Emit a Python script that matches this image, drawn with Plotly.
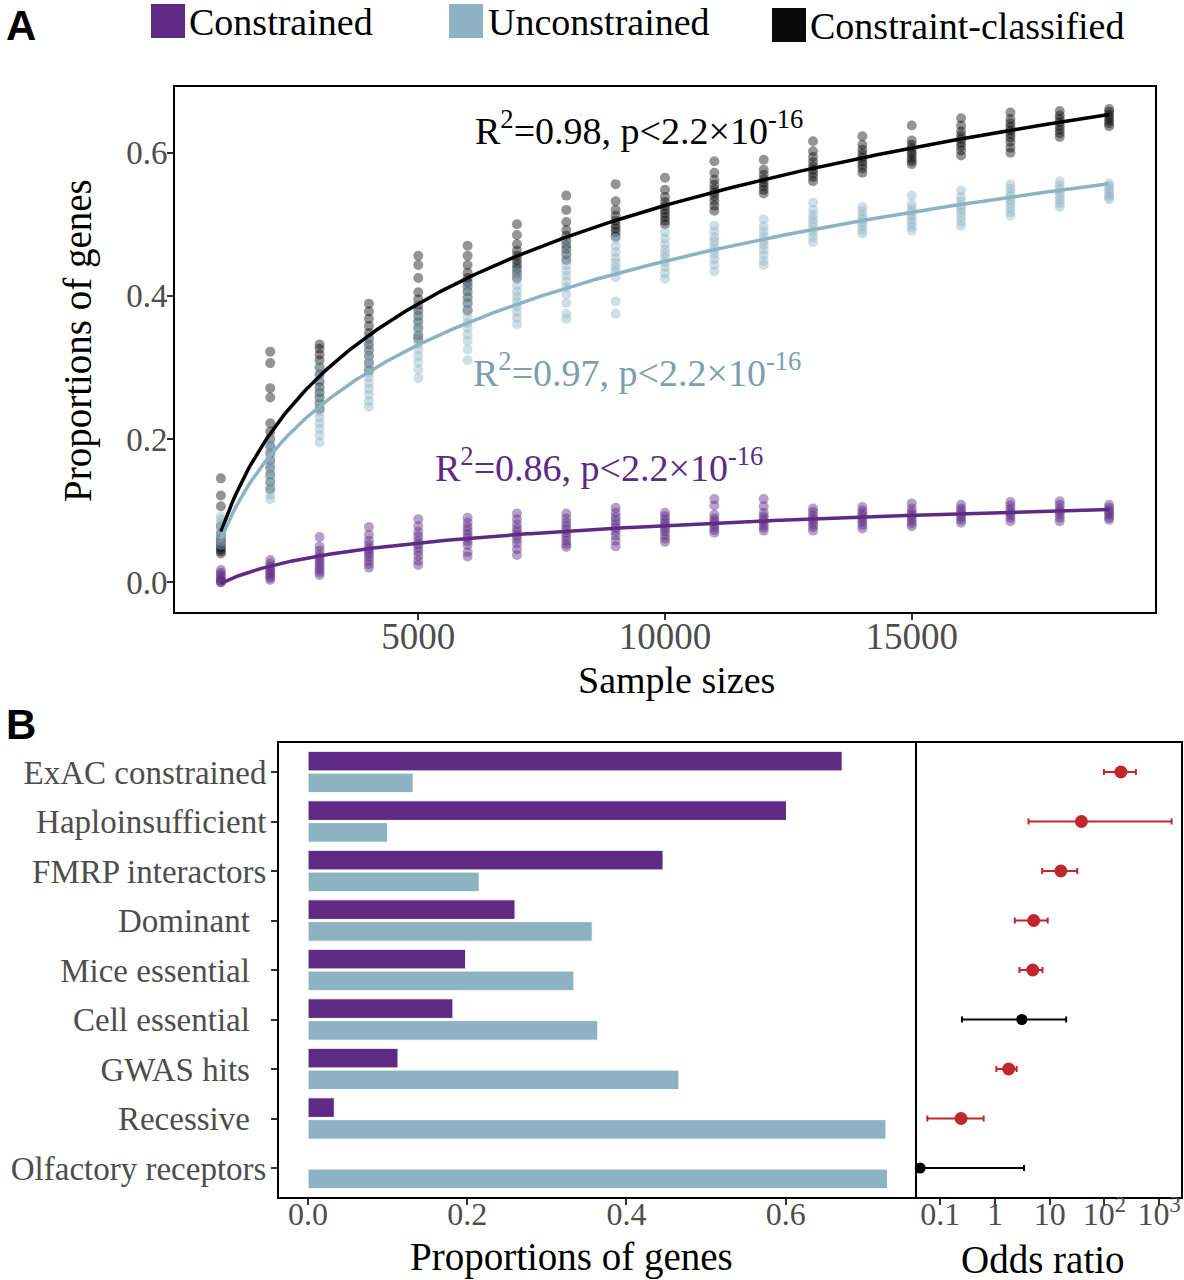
import numpy as np
import plotly.graph_objects as go

# ---------------- DATA ----------------
sample_sizes = [1000, 2000, 3000, 4000, 5000, 6000, 7000, 8000, 9000, 10000,
                11000, 12000, 13000, 14000, 15000, 16000, 17000, 18000, 19000]

classified_pts = [
    [0.145, 0.121, 0.106, 0.078, 0.068, 0.062, 0.058, 0.055, 0.052, 0.049, 0.046, 0.043, 0.04],
    [0.322, 0.306, 0.271, 0.258, 0.222, 0.21, 0.2, 0.19, 0.18, 0.17, 0.16, 0.15, 0.14, 0.13],
    [0.332, 0.326, 0.318, 0.31, 0.3, 0.29, 0.28, 0.272, 0.265, 0.258, 0.25, 0.242],
    [0.389, 0.378, 0.368, 0.358, 0.348, 0.34, 0.332, 0.324, 0.316, 0.306, 0.296],
    [0.456, 0.443, 0.425, 0.405, 0.395, 0.387, 0.38, 0.372, 0.364, 0.355, 0.345, 0.34],
    [0.47, 0.456, 0.443, 0.432, 0.425, 0.419, 0.413, 0.406, 0.398, 0.39, 0.38],
    [0.50, 0.485, 0.472, 0.463, 0.456, 0.45, 0.444, 0.438, 0.432, 0.425],
    [0.54, 0.52, 0.503, 0.492, 0.484, 0.477, 0.471, 0.465, 0.458, 0.45],
    [0.556, 0.532, 0.52, 0.512, 0.505, 0.499, 0.494, 0.489, 0.483],
    [0.565, 0.548, 0.538, 0.531, 0.525, 0.52, 0.515, 0.51, 0.505, 0.5],
    [0.588, 0.572, 0.562, 0.555, 0.549, 0.544, 0.539, 0.533, 0.526, 0.519],
    [0.59, 0.576, 0.569, 0.563, 0.558, 0.553, 0.548, 0.543],
    [0.616, 0.602, 0.594, 0.587, 0.581, 0.576, 0.571, 0.566, 0.56],
    [0.623, 0.611, 0.604, 0.598, 0.593, 0.588, 0.583, 0.578, 0.572],
    [0.638, 0.617, 0.611, 0.606, 0.601, 0.597, 0.592, 0.588, 0.584],
    [0.648, 0.638, 0.63, 0.624, 0.619, 0.614, 0.609, 0.603, 0.596],
    [0.656, 0.647, 0.641, 0.636, 0.631, 0.626, 0.621, 0.615, 0.607, 0.6],
    [0.658, 0.652, 0.647, 0.642, 0.637, 0.632, 0.627, 0.622],
    [0.661, 0.657, 0.653, 0.649, 0.645, 0.641, 0.637],
]

unconstrained_pts = [
    [0.092, 0.087, 0.082, 0.077, 0.072, 0.067, 0.062, 0.057, 0.052],
    [0.20, 0.19, 0.182, 0.175, 0.168, 0.16, 0.152, 0.145, 0.138, 0.13, 0.122, 0.116],
    [0.30, 0.285, 0.27, 0.26, 0.252, 0.245, 0.238, 0.23, 0.222, 0.214, 0.205, 0.195],
    [0.34, 0.325, 0.315, 0.307, 0.3, 0.293, 0.286, 0.278, 0.27, 0.262, 0.253, 0.245],
    [0.39, 0.375, 0.365, 0.355, 0.347, 0.34, 0.333, 0.325, 0.316, 0.307, 0.297, 0.285],
    [0.413, 0.403, 0.393, 0.385, 0.378, 0.37, 0.362, 0.355, 0.346, 0.337, 0.325, 0.31],
    [0.433, 0.423, 0.414, 0.406, 0.399, 0.392, 0.385, 0.377, 0.369, 0.36],
    [0.475, 0.462, 0.452, 0.443, 0.435, 0.428, 0.42, 0.412, 0.402, 0.39, 0.375, 0.368],
    [0.48, 0.47, 0.461, 0.453, 0.446, 0.44, 0.434, 0.426, 0.392, 0.375],
    [0.489, 0.48, 0.472, 0.465, 0.459, 0.453, 0.447, 0.44, 0.432, 0.424],
    [0.498, 0.49, 0.482, 0.476, 0.47, 0.464, 0.458, 0.451, 0.443, 0.434],
    [0.507, 0.497, 0.49, 0.483, 0.477, 0.471, 0.464, 0.457, 0.449, 0.443],
    [0.53, 0.52, 0.513, 0.507, 0.501, 0.495, 0.489, 0.482, 0.475],
    [0.524, 0.518, 0.512, 0.507, 0.502, 0.497, 0.492, 0.487],
    [0.54, 0.528, 0.522, 0.517, 0.512, 0.507, 0.502, 0.496, 0.491],
    [0.547, 0.538, 0.532, 0.526, 0.521, 0.516, 0.51, 0.504, 0.498],
    [0.556, 0.55, 0.544, 0.539, 0.534, 0.529, 0.523, 0.517, 0.512],
    [0.56, 0.554, 0.549, 0.544, 0.539, 0.534, 0.529, 0.524],
    [0.557, 0.553, 0.549, 0.545, 0.541, 0.538, 0.535],
]

constrained_pts = [
    [0.017, 0.013, 0.01, 0.007, 0.004, 0.002, 0.0, 0.0],
    [0.031, 0.026, 0.022, 0.018, 0.015, 0.012, 0.009, 0.006, 0.003],
    [0.063, 0.05, 0.044, 0.038, 0.034, 0.03, 0.026, 0.022, 0.018, 0.014, 0.01],
    [0.077, 0.066, 0.058, 0.052, 0.047, 0.043, 0.039, 0.035, 0.03, 0.025, 0.02],
    [0.088, 0.078, 0.07, 0.064, 0.058, 0.053, 0.048, 0.043, 0.037, 0.03, 0.024],
    [0.09, 0.083, 0.077, 0.072, 0.067, 0.062, 0.057, 0.052, 0.042, 0.036],
    [0.096, 0.088, 0.081, 0.075, 0.07, 0.065, 0.06, 0.054, 0.046, 0.038],
    [0.096, 0.089, 0.083, 0.078, 0.073, 0.068, 0.063, 0.058, 0.053, 0.049],
    [0.104, 0.097, 0.091, 0.086, 0.081, 0.076, 0.071, 0.065, 0.058, 0.05],
    [0.097, 0.092, 0.087, 0.083, 0.079, 0.075, 0.071, 0.066, 0.061, 0.056],
    [0.116, 0.107, 0.094, 0.089, 0.085, 0.081, 0.077, 0.073, 0.069],
    [0.116, 0.106, 0.097, 0.092, 0.088, 0.084, 0.08, 0.076, 0.072],
    [0.103, 0.098, 0.093, 0.089, 0.085, 0.081, 0.077, 0.072],
    [0.105, 0.1, 0.096, 0.092, 0.088, 0.084, 0.08, 0.075],
    [0.11, 0.103, 0.098, 0.094, 0.09, 0.086, 0.082, 0.078],
    [0.108, 0.103, 0.099, 0.095, 0.091, 0.087, 0.083],
    [0.112, 0.107, 0.102, 0.098, 0.094, 0.09, 0.085],
    [0.113, 0.108, 0.103, 0.099, 0.095, 0.09, 0.085],
    [0.108, 0.104, 0.1, 0.097, 0.094, 0.09, 0.087],
]

fit_labels = ["R<sup>2</sup>=0.98, p&lt;2.2×10<sup>-16</sup>",
              "R<sup>2</sup>=0.97, p&lt;2.2×10<sup>-16</sup>",
              "R<sup>2</sup>=0.86, p&lt;2.2×10<sup>-16</sup>"]

sample_ticks = [5000, 10000, 15000]
sample_ticktext = ["5000", "10000", "15000"]

categories = ["ExAC constrained", "Haploinsufficient", "FMRP interactors",
              "Dominant\u00a0\u00a0", "Mice essential\u00a0\u00a0", "Cell essential\u00a0\u00a0",
              "GWAS hits\u00a0\u00a0", "Recessive\u00a0\u00a0", "Olfactory receptors"]
prop_constrained = [0.671, 0.601, 0.446, 0.260, 0.198, 0.182, 0.113, 0.033, 0.0]
prop_unconstrained = [0.132, 0.100, 0.215, 0.357, 0.334, 0.364, 0.466, 0.726, 0.728]

odds_ratio = [200, 38, 16, 5.1, 4.9, 3.1, 1.78, 0.24, 0.043]
or_low = [98, 4.1, 7.3, 2.3, 2.8, 0.25, 1.06, 0.058, 0.043]
or_high = [376, 1690, 32, 9.2, 7.4, 20, 2.49, 0.62, 3.4]
or_significant = [True, True, True, True, True, False, True, True, False]

or_tickvals = [0.1, 1, 10, 100, 1000]
or_ticktext = ["0.1", "1", "10", "10<sup>2</sup>", "10<sup>3</sup>"]

# ---------------- STYLE ----------------
W, H = 1184, 1280
PURPLE = "#5E2A84"
BLUE = "#8DB3C3"
BLUE_TXT = "#7C9FAD"
BLACK = "#000000"
RED = "#C0262D"
SERIF = "Liberation Serif"
GRAY = "#4D4D4D"


def px(x):
    return x / W


def py(y):
    return 1 - y / H


fig = go.Figure()

groups = [
    ("Constraint-classified", classified_pts, BLACK, 0.42),
    ("Unconstrained", unconstrained_pts, BLUE, 0.42),
    ("Constrained", constrained_pts, PURPLE, 0.45),
]

for name, pts, col, op in groups:
    xs = [s for s, vals in zip(sample_sizes, pts) for _ in vals]
    ys = [v for vals in pts for v in vals]
    fig.add_trace(go.Scatter(x=xs, y=ys, mode="markers", name=name, showlegend=False,
                             marker=dict(color=col, size=10, opacity=op, line=dict(width=0)),
                             xaxis="x", yaxis="y"))

# log fits (y ~ a + b*log(x)) computed from the points
curve_x = np.linspace(min(sample_sizes), max(sample_sizes), 300)
for name, pts, col, op in groups:
    xs = np.array([s for s, vals in zip(sample_sizes, pts) for _ in vals], dtype=float)
    ys = np.array([v for vals in pts for v in vals])
    b, a = np.polyfit(np.log(xs), ys, 1)
    fig.add_trace(go.Scatter(x=curve_x, y=a + b * np.log(curve_x), mode="lines",
                             showlegend=False, line=dict(color=col, width=3.5),
                             xaxis="x", yaxis="y"))

# panel B bars
fig.add_trace(go.Bar(y=categories, x=prop_constrained, orientation="h", name="Constrained",
                     marker=dict(color=PURPLE, line=dict(color="white", width=1)),
                     showlegend=False, xaxis="x2", yaxis="y2"))
fig.add_trace(go.Bar(y=categories, x=prop_unconstrained, orientation="h", name="Unconstrained",
                     marker=dict(color=BLUE, line=dict(color="white", width=1)),
                     showlegend=False, xaxis="x2", yaxis="y2"))

# forest plot
for sig, col, size in [(True, RED, 13), (False, BLACK, 11)]:
    idx = [i for i, s in enumerate(or_significant) if s == sig]
    fig.add_trace(go.Scatter(
        x=[odds_ratio[i] for i in idx], y=[categories[i] for i in idx], mode="markers",
        marker=dict(color=col, size=size),
        error_x=dict(type="data", symmetric=False,
                     array=[or_high[i] - odds_ratio[i] for i in idx],
                     arrayminus=[odds_ratio[i] - or_low[i] for i in idx],
                     color=col, thickness=2, width=3),
        showlegend=False, cliponaxis=False, xaxis="x3", yaxis="y3"))

axis_common = dict(showline=True, linecolor="black", linewidth=2,
                   showgrid=False, zeroline=False, ticks="outside", ticklen=6,
                   tickwidth=1.5, tickcolor="#333333")

fig.update_layout(
    width=W, height=H, margin=dict(l=0, r=0, t=0, b=0),
    paper_bgcolor="white", plot_bgcolor="white",
    barmode="group", bargap=0.12, bargroupgap=0.1,
    font=dict(family=SERIF),
    xaxis=dict(domain=[px(175), px(1155)], anchor="y", range=[70, 19930], mirror=True,
               tickvals=sample_ticks, ticktext=sample_ticktext, ticklabelstandoff=-15,
               tickfont=dict(family=SERIF, size=37, color=GRAY), **axis_common),
    yaxis=dict(domain=[py(612), py(87)], anchor="x", range=[-0.0417, 0.6917], mirror=True,
               tickvals=[0, 0.2, 0.4, 0.6], tickformat=".1f", ticklabelstandoff=-7,
               tickfont=dict(family=SERIF, size=33, color=GRAY), **axis_common),
    xaxis2=dict(domain=[px(279), px(917)], anchor="y2", range=[-0.0365, 0.765], mirror=True,
                tickvals=[0, 0.2, 0.4, 0.6], tickformat=".1f", ticklabelstandoff=-18,
                tickfont=dict(family=SERIF, size=32, color=GRAY), **axis_common),
    yaxis2=dict(domain=[py(1197), py(743)], anchor="x2", type="category", mirror=False,
                categoryorder="array", categoryarray=categories, range=[8.586, -0.586],
                ticklabelstandoff=-2,
                tickfont=dict(family=SERIF, size=33, color=GRAY), **axis_common),
    xaxis3=dict(domain=[px(917), px(1181)], anchor="y3", type="log", range=[-1.425, 3.40],
                mirror=True, tickvals=or_tickvals, ticktext=or_ticktext, ticklabelstandoff=-18,
                tickfont=dict(family=SERIF, size=32, color=GRAY), **axis_common),
    yaxis3=dict(domain=[py(1197), py(743)], anchor="x3", type="category",
                categoryorder="array", categoryarray=categories, range=[8.586, -0.586],
                showline=True, mirror=True, linecolor="black", linewidth=2,
                showgrid=False, zeroline=False, showticklabels=False, ticks=""),
)

ann = []
# panel letters
ann.append(dict(text="<b>A</b>", x=px(4), y=py(26), xanchor="left", yanchor="middle",
                font=dict(family="Liberation Sans", size=42, color="black")))
ann.append(dict(text="<b>B</b>", x=px(4), y=py(724), xanchor="left", yanchor="middle",
                font=dict(family="Liberation Sans", size=42, color="black")))
# legend
legend_items = [("Constrained", PURPLE, 151, 4, 187), ("Unconstrained", BLUE, 449, 4, 486),
                ("Constraint-classified", "#0A0A0A", 772, 8, 808)]
shapes = []
for lab, col, x0, y0, tx in legend_items:
    shapes.append(dict(type="rect", xref="paper", yref="paper", x0=px(x0), x1=px(x0 + 34),
                       y0=py(y0 + 34), y1=py(y0), fillcolor=col, line=dict(width=0)))
    ann.append(dict(text=lab, x=px(tx), y=py(y0 + 18), xanchor="left", yanchor="middle",
                    font=dict(family=SERIF, size=38, color="black")))
# fit labels
for txt, col, x, y in [(fit_labels[0], "black", 473, 128),
                       (fit_labels[1], BLUE_TXT, 471, 370),
                       (fit_labels[2], PURPLE, 433, 465)]:
    ann.append(dict(text=txt, x=px(x), y=py(y), xanchor="left", yanchor="middle",
                    font=dict(family=SERIF, size=38, color=col)))
# axis titles
ann.append(dict(text="Proportions of genes", x=px(78), y=py(340), textangle=-90,
                xanchor="center", yanchor="middle", font=dict(family=SERIF, size=39, color="black")))
ann.append(dict(text="Sample sizes", x=px(676), y=py(680), xanchor="center", yanchor="middle",
                font=dict(family=SERIF, size=38, color="black")))
ann.append(dict(text="Proportions of genes", x=px(571), y=py(1257), xanchor="center", yanchor="middle",
                font=dict(family=SERIF, size=39, color="black")))
ann.append(dict(text="Odds ratio", x=px(1043), y=py(1259), xanchor="center", yanchor="middle",
                font=dict(family=SERIF, size=39, color="black")))

for a in ann:
    a.setdefault("xref", "paper")
    a.setdefault("yref", "paper")
    a["showarrow"] = False

fig.update_layout(annotations=ann, shapes=shapes)
fig.write_html("out.html")
